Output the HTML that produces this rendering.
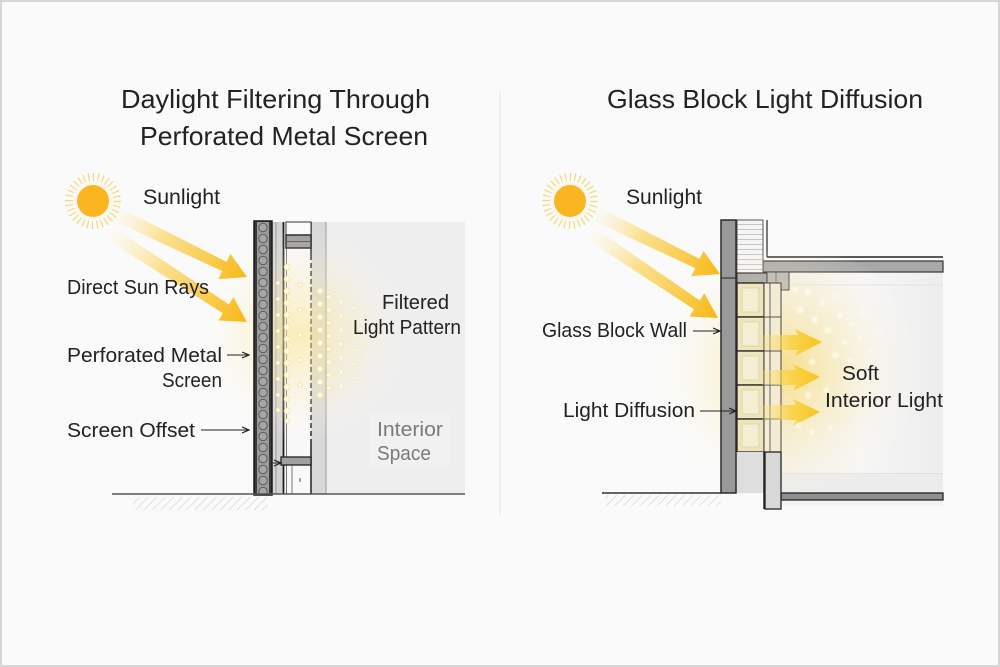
<!DOCTYPE html>
<html><head><meta charset="utf-8"><style>
html,body{margin:0;padding:0;background:#fafafa;}
svg{display:block;}
text{font-family:"Liberation Sans",sans-serif;}
</style></head><body>
<svg width="1000" height="667" viewBox="0 0 1000 667" xmlns="http://www.w3.org/2000/svg">
<defs>
 <linearGradient id="a1" gradientUnits="userSpaceOnUse" x1="112" y1="212" x2="246" y2="277">
  <stop offset="0" stop-color="#fde9a0" stop-opacity="0"/>
  <stop offset="0.4" stop-color="#fbd35a" stop-opacity="0.7"/>
  <stop offset="1" stop-color="#f8b816"/>
 </linearGradient>
 <linearGradient id="a2" gradientUnits="userSpaceOnUse" x1="108" y1="232" x2="246" y2="322">
  <stop offset="0" stop-color="#fde9a0" stop-opacity="0"/>
  <stop offset="0.4" stop-color="#fbd35a" stop-opacity="0.7"/>
  <stop offset="1" stop-color="#f8b816"/>
 </linearGradient>
 <linearGradient id="b1" gradientUnits="userSpaceOnUse" x1="592" y1="212" x2="719" y2="274">
  <stop offset="0" stop-color="#fde9a0" stop-opacity="0"/>
  <stop offset="0.4" stop-color="#fbd35a" stop-opacity="0.7"/>
  <stop offset="1" stop-color="#f8b816"/>
 </linearGradient>
 <linearGradient id="b2" gradientUnits="userSpaceOnUse" x1="588" y1="232" x2="717" y2="318">
  <stop offset="0" stop-color="#fde9a0" stop-opacity="0"/>
  <stop offset="0.4" stop-color="#fbd35a" stop-opacity="0.7"/>
  <stop offset="1" stop-color="#f8b816"/>
 </linearGradient>
 <linearGradient id="ia" gradientUnits="userSpaceOnUse" x1="762" y1="0" x2="822" y2="0">
  <stop offset="0" stop-color="#fbe27a" stop-opacity="0.2"/>
  <stop offset="0.5" stop-color="#f9d03a" stop-opacity="0.85"/>
  <stop offset="1" stop-color="#f8c21a" stop-opacity="1"/>
 </linearGradient>
 <radialGradient id="glowL" cx="300" cy="335" r="110" gradientUnits="userSpaceOnUse">
  <stop offset="0" stop-color="#fbe58e" stop-opacity="0.6"/>
  <stop offset="0.6" stop-color="#fcefc0" stop-opacity="0.25"/>
  <stop offset="1" stop-color="#ffffff" stop-opacity="0"/>
 </radialGradient>
 <radialGradient id="glowR" cx="785" cy="370" r="140" gradientUnits="userSpaceOnUse">
  <stop offset="0" stop-color="#f9d24c" stop-opacity="0.6"/>
  <stop offset="0.5" stop-color="#fbe7a2" stop-opacity="0.3"/>
  <stop offset="1" stop-color="#ffffff" stop-opacity="0"/>
 </radialGradient>
 <radialGradient id="sunHalo" cx="0.5" cy="0.5" r="0.5">
  <stop offset="0" stop-color="#fde7a0" stop-opacity="0.5"/>
  <stop offset="1" stop-color="#fff" stop-opacity="0"/>
 </radialGradient>
 <linearGradient id="intR" x1="0" y1="0" x2="1" y2="0">
  <stop offset="0" stop-color="#f4f1e6"/>
  <stop offset="0.5" stop-color="#f6f6f6"/>
  <stop offset="1" stop-color="#ededed"/>
 </linearGradient>
 <pattern id="perf" x="257" y="222" width="12" height="11" patternUnits="userSpaceOnUse">
  <rect width="12" height="11" fill="#9a9a9a"/>
  <circle cx="6" cy="5.5" r="4.2" fill="#a6a6a6" stroke="#555" stroke-width="0.9"/>
 </pattern>
 <pattern id="hatch" width="6" height="6" patternUnits="userSpaceOnUse" patternTransform="rotate(45)">
  <line x1="0" y1="0" x2="0" y2="6" stroke="#cfcfcf" stroke-width="1.2"/>
 </pattern>
 <pattern id="siding" x="737" y="220" width="26" height="5" patternUnits="userSpaceOnUse">
  <rect width="26" height="5" fill="#f5f5f5"/>
  <line x1="0" y1="4.5" x2="26" y2="4.5" stroke="#b5b5b5" stroke-width="0.8"/>
 </pattern>
 <marker id="ah" markerWidth="8" markerHeight="8" refX="7" refY="4" orient="auto" markerUnits="userSpaceOnUse">
  <path d="M0,1 L7,4 L0,7" fill="none" stroke="#222" stroke-width="1.2"/>
 </marker>
 <filter id="blur1"><feGaussianBlur stdDeviation="1.2"/></filter>
</defs>

<!-- background & border -->
<rect x="0" y="0" width="1000" height="667" fill="#fafafa"/>
<rect x="1" y="1" width="998" height="665" fill="none" stroke="#d6d6d6" stroke-width="2"/>
<line x1="500" y1="92" x2="500" y2="515" stroke="#e3e3e3" stroke-width="1"/>

<!-- Titles -->
<text x="121" y="108" font-size="26" fill="#222" textLength="309" lengthAdjust="spacingAndGlyphs">Daylight Filtering Through</text>
<text x="140" y="145" font-size="26" fill="#222" textLength="288" lengthAdjust="spacingAndGlyphs">Perforated Metal Screen</text>
<text x="607" y="108" font-size="26" fill="#222" textLength="316" lengthAdjust="spacingAndGlyphs">Glass Block Light Diffusion</text>

<!-- ========== LEFT PANEL ========== -->
<circle cx="93" cy="201" r="34" fill="url(#sunHalo)"/>
<circle cx="93" cy="201" r="24" fill="none" stroke="#f5d679" stroke-width="8" stroke-dasharray="1.1 3.6"/>
<circle cx="93" cy="201" r="16" fill="#f9b620"/>

<!-- interior -->
<rect x="326" y="222" width="139" height="272" fill="#eeeeee"/>
<rect x="370" y="412" width="80" height="55" fill="#f4f4f4" opacity="0.6"/>
<!-- wall band -->
<rect x="311" y="222" width="15" height="272" fill="#d8d8d8"/>
<line x1="326" y1="222" x2="326" y2="494" stroke="#9a9a9a" stroke-width="1"/>
<!-- glass zone -->
<rect x="285" y="222" width="26" height="272" fill="#f8f8f8"/>
<!-- gap between screen and mullion -->
<rect x="272" y="222" width="11" height="272" fill="#d3d3d3"/>
<line x1="276" y1="222" x2="276" y2="494" stroke="#8a8a8a" stroke-width="0.8"/>
<line x1="283.5" y1="222" x2="283.5" y2="494" stroke="#1e1e1e" stroke-width="1.8"/>
<line x1="286.5" y1="222" x2="286.5" y2="494" stroke="#555" stroke-width="0.8"/>
<line x1="311" y1="222" x2="311" y2="255" stroke="#222" stroke-width="1.5"/>
<line x1="311" y1="255" x2="311" y2="440" stroke="#222" stroke-width="1.5" stroke-dasharray="5 3"/>
<line x1="311" y1="440" x2="311" y2="494" stroke="#222" stroke-width="1.5"/>
<!-- top header -->
<rect x="286" y="222" width="25" height="13" fill="#fbfbfb" stroke="#333" stroke-width="1"/>
<rect x="286" y="235" width="25" height="13" fill="#9c9c9c" stroke="#222" stroke-width="1.5"/>
<line x1="286" y1="241.5" x2="311" y2="241.5" stroke="#555" stroke-width="1"/>
<!-- bottom sill -->
<rect x="281" y="457" width="30" height="8" fill="#a0a0a0" stroke="#222" stroke-width="1.3"/>
<line x1="292" y1="465" x2="292" y2="494" stroke="#555" stroke-width="0.8"/>
<line x1="300" y1="478" x2="300" y2="482" stroke="#555" stroke-width="1"/>

<!-- glow + dots -->
<ellipse cx="305" cy="335" rx="110" ry="110" fill="url(#glowL)"/>
<g fill="#fffbe2" stroke="#f0dc80" stroke-width="0.6">
 <circle cx="287" cy="267" r="3"/><circle cx="287" cy="279" r="3"/><circle cx="287" cy="291" r="3"/><circle cx="287" cy="303" r="3"/>
 <circle cx="287" cy="315" r="3"/><circle cx="287" cy="327" r="3"/><circle cx="287" cy="339" r="3"/><circle cx="287" cy="351" r="3"/>
 <circle cx="287" cy="363" r="3"/><circle cx="287" cy="375" r="3"/><circle cx="287" cy="387" r="3"/><circle cx="287" cy="399" r="3"/>
 <circle cx="287" cy="411" r="3"/><circle cx="287" cy="421" r="2.5"/>
 <circle cx="278" cy="283" r="2"/><circle cx="278" cy="299" r="2"/><circle cx="278" cy="315" r="2"/><circle cx="278" cy="331" r="2"/>
 <circle cx="278" cy="347" r="2"/><circle cx="278" cy="363" r="2"/><circle cx="278" cy="379" r="2"/><circle cx="278" cy="395" r="2"/><circle cx="278" cy="410" r="2"/>
 <circle cx="300" cy="285" r="2.2"/><circle cx="300" cy="310" r="2.2"/><circle cx="300" cy="335" r="2.2"/><circle cx="300" cy="360" r="2.2"/><circle cx="300" cy="385" r="2.2"/>
 <circle cx="320" cy="291" r="3"/><circle cx="320" cy="304" r="3"/><circle cx="320" cy="317" r="3"/><circle cx="320" cy="330" r="3"/>
 <circle cx="320" cy="343" r="3"/><circle cx="320" cy="356" r="3"/><circle cx="320" cy="369" r="3"/><circle cx="320" cy="382" r="3"/><circle cx="320" cy="395" r="3"/>
 <circle cx="329" cy="297" r="2.6"/><circle cx="329" cy="310" r="2.6"/><circle cx="329" cy="323" r="2.6"/><circle cx="329" cy="336" r="2.6"/>
 <circle cx="329" cy="349" r="2.6"/><circle cx="329" cy="362" r="2.6"/><circle cx="329" cy="375" r="2.6"/><circle cx="329" cy="388" r="2.6"/>
</g>
<g fill="#fffbe6" stroke="#f3e39a" stroke-width="0.5" opacity="0.8">
 <circle cx="341" cy="302" r="2.3"/><circle cx="341" cy="316" r="2.3"/><circle cx="341" cy="330" r="2.3"/><circle cx="341" cy="344" r="2.3"/>
 <circle cx="341" cy="358" r="2.3"/><circle cx="341" cy="372" r="2.3"/><circle cx="341" cy="386" r="2.3"/>
 <circle cx="354" cy="308" r="2"/><circle cx="354" cy="322" r="2"/><circle cx="354" cy="336" r="2"/><circle cx="354" cy="350" r="2"/>
 <circle cx="354" cy="364" r="2"/><circle cx="354" cy="378" r="2"/>
</g>
<g fill="#fffbe6" stroke="#f3e5a5" stroke-width="0.4" opacity="0.55">
 <circle cx="367" cy="312" r="1.8"/><circle cx="367" cy="327" r="1.8"/><circle cx="367" cy="342" r="1.8"/><circle cx="367" cy="357" r="1.8"/><circle cx="367" cy="372" r="1.8"/>
 <circle cx="381" cy="320" r="1.6"/><circle cx="381" cy="336" r="1.6"/><circle cx="381" cy="352" r="1.6"/><circle cx="381" cy="366" r="1.6"/>
 <circle cx="395" cy="328" r="1.4"/><circle cx="395" cy="345" r="1.4"/><circle cx="395" cy="360" r="1.4"/>
</g>

<!-- perforated screen -->
<rect x="254" y="221" width="18" height="274" fill="#3a3a3a" stroke="#1a1a1a" stroke-width="1.5"/>
<rect x="257" y="222" width="12" height="272" fill="url(#perf)"/>

<!-- ground -->
<line x1="112" y1="494" x2="465" y2="494" stroke="#555" stroke-width="1.5"/>
<rect x="133" y="497" width="135" height="13" fill="url(#hatch)"/>

<!-- sun arrows left -->
<polygon points="108.8,218.6 115.2,205.4 226.6,261.9 230.5,253.9 247,277 218.3,279.1 222.2,271.1" fill="url(#a1)"/>
<polygon points="104.2,237.8 111.8,226.2 228.9,304.5 233.4,297.3 247,322 218.4,320.5 222.9,313.3" fill="url(#a2)"/>

<!-- leaders left -->
<g stroke="#222" stroke-width="1" fill="none">
 <line x1="227" y1="355" x2="249" y2="355" marker-end="url(#ah)"/>
 <line x1="201" y1="430" x2="249" y2="430" marker-end="url(#ah)"/>
 <line x1="273" y1="463" x2="281" y2="463" marker-end="url(#ah)"/>
</g>

<!-- labels left -->
<g fill="#222" font-size="20">
 <text x="143" y="204" font-size="21" textLength="77" lengthAdjust="spacingAndGlyphs">Sunlight</text>
 <text x="67" y="294" textLength="142" lengthAdjust="spacingAndGlyphs">Direct Sun Rays</text>
 <text x="67" y="362" textLength="155" lengthAdjust="spacingAndGlyphs">Perforated Metal</text>
 <text x="162" y="387" textLength="60" lengthAdjust="spacingAndGlyphs">Screen</text>
 <text x="67" y="437" textLength="128" lengthAdjust="spacingAndGlyphs">Screen Offset</text>
 <text x="382" y="309" textLength="67" lengthAdjust="spacingAndGlyphs">Filtered</text>
 <text x="353" y="334" textLength="108" lengthAdjust="spacingAndGlyphs">Light Pattern</text>
 <text x="377" y="436" fill="#7a7a7a" textLength="66" lengthAdjust="spacingAndGlyphs">Interior</text>
 <text x="377" y="460" fill="#7a7a7a" textLength="54" lengthAdjust="spacingAndGlyphs">Space</text>
</g>

<!-- ========== RIGHT PANEL ========== -->
<circle cx="570" cy="201" r="34" fill="url(#sunHalo)"/>
<circle cx="570" cy="201" r="24" fill="none" stroke="#f5d679" stroke-width="8" stroke-dasharray="1.1 3.6"/>
<circle cx="570" cy="201" r="16" fill="#f9b620"/>

<!-- interior room -->
<rect x="781" y="272" width="162" height="228" fill="url(#intR)"/>
<line x1="781" y1="285" x2="943" y2="285" stroke="#e2e2e2" stroke-width="1"/>
<line x1="781" y1="474" x2="943" y2="474" stroke="#cfcfcf" stroke-width="1"/>
<rect x="781" y="474" width="162" height="19" fill="#ececec"/>
<rect x="781" y="493" width="162" height="7" fill="#8f8f8f" stroke="#222" stroke-width="1.3"/>
<rect x="781" y="501" width="162" height="5" fill="#f2f2f2"/>

<!-- ceiling/roof -->
<line x1="767" y1="220" x2="767" y2="257" stroke="#333" stroke-width="1.3"/>
<line x1="767" y1="257" x2="943" y2="257" stroke="#222" stroke-width="1.5"/>
<rect x="763" y="261" width="180" height="11" fill="#a8a8a8" stroke="#333" stroke-width="1.2"/>
<!-- siding -->
<rect x="737" y="220" width="26" height="53" fill="url(#siding)" stroke="#555" stroke-width="1"/>
<!-- lintel -->
<rect x="737" y="273" width="30" height="10" fill="#a2a2a2" stroke="#222" stroke-width="1.2"/>
<rect x="767" y="272" width="22" height="18" fill="#b5b5b5" stroke="#333" stroke-width="1"/>
<line x1="776" y1="272" x2="776" y2="290" stroke="#555" stroke-width="0.8"/>

<!-- glow inside -->
<ellipse cx="790" cy="370" rx="150" ry="120" fill="url(#glowR)"/>

<!-- glass blocks -->
<g stroke="#222" stroke-width="1.3">
 <rect x="737" y="283" width="27" height="34" fill="#efe5bd"/>
 <rect x="737" y="317" width="27" height="34" fill="#efe5bd"/>
 <rect x="737" y="351" width="27" height="34" fill="#efe5bd"/>
 <rect x="737" y="385" width="27" height="34" fill="#efe5bd"/>
 <rect x="737" y="419" width="27" height="33" fill="#efe5bd"/>
</g>
<g fill="#f5eed3" stroke="#dccfa5" stroke-width="0.8">
 <rect x="742" y="288" width="17" height="24"/>
 <rect x="742" y="322" width="17" height="24"/>
 <rect x="742" y="356" width="17" height="24"/>
 <rect x="742" y="390" width="17" height="24"/>
 <rect x="742" y="424" width="17" height="23"/>
</g>
<rect x="764" y="283" width="17" height="169" fill="#f4ecd2" stroke="#444" stroke-width="1"/>
<g stroke="#555" stroke-width="0.9">
 <line x1="770" y1="283" x2="770" y2="452"/>
 <line x1="764" y1="317" x2="781" y2="317"/>
 <line x1="764" y1="351" x2="781" y2="351"/>
 <line x1="764" y1="385" x2="781" y2="385"/>
 <line x1="764" y1="419" x2="781" y2="419"/>
</g>
<!-- sill / post -->
<rect x="735" y="452" width="29" height="41" fill="#dedede"/>
<line x1="764" y1="452" x2="764" y2="509" stroke="#222" stroke-width="1.5"/>
<rect x="765" y="452" width="16" height="57" fill="#d8d8d8" stroke="#222" stroke-width="1.3"/>
<!-- outer wall -->
<rect x="721" y="220" width="15" height="273" fill="#999" stroke="#2a2a2a" stroke-width="1.5"/>
<line x1="721" y1="278" x2="736" y2="278" stroke="#333" stroke-width="1.2"/>
<!-- ground -->
<line x1="602" y1="493" x2="722" y2="493" stroke="#333" stroke-width="1.5"/>
<rect x="605" y="495" width="116" height="11" fill="url(#hatch)"/>

<!-- interior arrows -->
<polygon points="762,335 798,335 795,329 822,342 795,356 798,350 762,350" fill="url(#ia)"/>
<polygon points="762,370 796,370 793,364 820,377 793,391 796,385 762,385" fill="url(#ia)"/>
<polygon points="762,405 796,405 793,399 820,412 793,426 796,420 762,420" fill="url(#ia)"/>

<!-- particles -->
<g fill="#fffdf0" filter="url(#blur1)" opacity="0.9">
 <circle cx="808" cy="292" r="3"/><circle cx="822" cy="303" r="2.5"/><circle cx="800" cy="310" r="3.5"/><circle cx="835" cy="296" r="2"/>
 <circle cx="815" cy="320" r="3"/><circle cx="840" cy="315" r="2.5"/><circle cx="828" cy="330" r="3"/><circle cx="852" cy="325" r="2"/>
 <circle cx="845" cy="342" r="2.5"/><circle cx="860" cy="338" r="2"/><circle cx="835" cy="355" r="3"/><circle cx="812" cy="362" r="3"/>
 <circle cx="850" cy="360" r="2"/><circle cx="870" cy="350" r="1.8"/><circle cx="826" cy="390" r="2.5"/><circle cx="808" cy="395" r="3"/>
 <circle cx="830" cy="428" r="2"/><circle cx="812" cy="432" r="2.5"/><circle cx="880" cy="330" r="1.6"/><circle cx="795" cy="290" r="2.5"/>
 <circle cx="798" cy="425" r="2.5"/><circle cx="862" cy="312" r="1.8"/>
</g>

<!-- sun arrows right -->
<polygon points="588.8,218.6 595.2,205.4 699.6,258.9 703.5,250.9 720,274 691.3,276.1 695.2,268.1" fill="url(#b1)"/>
<polygon points="584.2,237.8 591.8,226.2 699.9,300.5 704.4,293.3 718,318 689.4,316.5 693.9,309.3" fill="url(#b2)"/>

<!-- leaders right -->
<g stroke="#222" stroke-width="1" fill="none">
 <line x1="693" y1="331" x2="720" y2="331" marker-end="url(#ah)"/>
 <line x1="700" y1="411" x2="736" y2="411" marker-end="url(#ah)"/>
</g>

<!-- labels right -->
<g fill="#222" font-size="20">
 <text x="626" y="204" font-size="21" textLength="76" lengthAdjust="spacingAndGlyphs">Sunlight</text>
 <text x="542" y="337" textLength="145" lengthAdjust="spacingAndGlyphs">Glass Block Wall</text>
 <text x="563" y="417" textLength="132" lengthAdjust="spacingAndGlyphs">Light Diffusion</text>
 <text x="842" y="380" textLength="37" lengthAdjust="spacingAndGlyphs">Soft</text>
 <text x="825" y="407" textLength="118" lengthAdjust="spacingAndGlyphs">Interior Light</text>
</g>
</svg>
</body></html>
